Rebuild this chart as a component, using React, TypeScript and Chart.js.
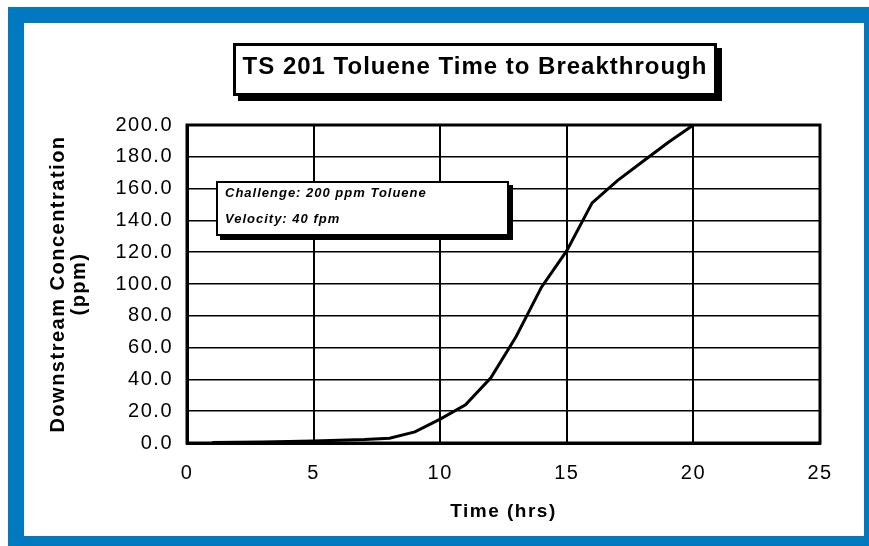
import React, { useEffect, useRef } from 'react';
import { Chart, registerables } from 'chart.js';

Chart.register(...registerables);

// ---- data ----
const hours = [1, 2, 3, 4, 5, 6, 7, 8, 9, 10, 11, 12, 13, 14, 15, 16, 17, 18, 19, 20];
const ppm = [0.3, 0.5, 0.6, 0.9, 1.2, 1.8, 2.2, 3, 7, 15, 24, 41, 67, 98, 121, 151, 165, 177, 189, 200];
const xRange = [0, 25];
const xStep = 5;
const yRange = [0, 200];
const yStep = 20;
const titleText = 'TS 201 Toluene Time to Breakthrough';
const noteLines = ['Challenge: 200 ppm Toluene', 'Velocity: 40 fpm'];
const xTitle = 'Time (hrs)';
const yTitle = ['Downstream Concentration', '(ppm)'];

const FONT = "'Liberation Sans', Arial, Helvetica, sans-serif";

const spacingPlugin = {
  id: 'spacing',
  beforeDraw(chart: any) {
    (chart.ctx as any).letterSpacing = '1.5px';
  },
};

const framePlugin = {
  id: 'frame',
  afterDraw(chart: any) {
    const { ctx, chartArea } = chart;
    const { left, top, right, bottom } = chartArea;
    ctx.save();
    ctx.strokeStyle = '#000';
    ctx.lineWidth = 3;
    ctx.strokeRect(left, top, right - left, bottom - top);
    ctx.restore();
  },
};

export default function App() {
  const canvasRef = useRef<HTMLCanvasElement | null>(null);

  useEffect(() => {
    if (!canvasRef.current) return;
    const chart = new Chart(canvasRef.current, {
      type: 'line',
      data: {
        datasets: [
          {
            label: 'Toluene',
            data: hours.map((h, i) => ({ x: h, y: ppm[i] })),
            borderColor: '#000',
            borderWidth: 3,
            pointRadius: 0,
            tension: 0,
            fill: false,
          },
        ],
      },
      options: {
        animation: false,
        responsive: false,
        maintainAspectRatio: false,
        layout: { padding: { left: 0, top: 125, right: 49, bottom: 0 } },
        plugins: {
          legend: { display: false },
          tooltip: { enabled: false },
          title: { display: false },
        },
        scales: {
          x: {
            type: 'linear',
            position: 'bottom',
            min: xRange[0],
            max: xRange[1],
            ticks: {
              stepSize: xStep,
              color: '#000',
              font: { family: FONT, size: 20 },
              padding: 18,
            },
            grid: { color: '#000', lineWidth: 2, drawTicks: false },
            border: { display: true, color: '#000', width: 3 },
            title: {
              display: true,
              text: xTitle,
              color: '#000',
              font: { family: FONT, size: 19, weight: 'bold', lineHeight: 1.2 },
              padding: { top: 0, bottom: 23 },
            },
            afterFit: (s: any) => {
              s.height = 103;
            },
          },
          y: {
            type: 'linear',
            min: yRange[0],
            max: yRange[1],
            ticks: {
              stepSize: yStep,
              color: '#000',
              font: { family: FONT, size: 20 },
              padding: 14,
              callback: (v: any) => Number(v).toFixed(1),
            },
            grid: { color: '#000', lineWidth: 1.6, drawTicks: false },
            border: { display: true, color: '#000', width: 3 },
            title: {
              display: true,
              text: yTitle,
              color: '#000',
              font: { family: FONT, size: 20, weight: 'bold', lineHeight: 1.05 },
              padding: { top: 48, bottom: 0 },
            },
            afterFit: (s: any) => {
              s.width = 187;
            },
          },
        },
      },
      plugins: [spacingPlugin, framePlugin],
    } as any);
    return () => chart.destroy();
  }, []);

  return (
    <div
      style={{
        position: 'absolute',
        left: 0,
        top: 0,
        width: 869,
        height: 546,
        background: '#fff',
        overflow: 'hidden',
      }}
    >
      <div
        style={{
          position: 'absolute',
          left: 8,
          top: 7,
          width: 861,
          height: 539,
          boxSizing: 'border-box',
          borderStyle: 'solid',
          borderColor: '#0079C1',
          borderWidth: '16px 5px 10px 16px',
          background: '#fff',
        }}
      />
      <canvas
        ref={canvasRef}
        width={869}
        height={546}
        style={{ position: 'absolute', left: 0, top: 0, width: 869, height: 546, display: 'block' }}
      />
      <div
        style={{
          position: 'absolute',
          left: 233,
          top: 43,
          width: 484,
          height: 53,
          boxSizing: 'border-box',
          border: '3px solid #000',
          boxShadow: '5px 5px 0 #000',
          background: '#fff',
          display: 'flex',
          alignItems: 'center',
          justifyContent: 'center',
          paddingBottom: 8,
          fontFamily: FONT,
          fontWeight: 'bold',
          fontSize: 24,
          letterSpacing: '1px',
          color: '#000',
          whiteSpace: 'nowrap',
        }}
      >
        {titleText}
      </div>
      <div
        style={{
          position: 'absolute',
          left: 216,
          top: 181,
          width: 293,
          height: 55,
          boxSizing: 'border-box',
          border: '2px solid #000',
          boxShadow: '4px 4px 0 #000',
          background: '#fff',
          fontFamily: FONT,
          fontWeight: 'bold',
          fontStyle: 'italic',
          fontSize: 13,
          letterSpacing: '1px',
          color: '#000',
          whiteSpace: 'nowrap',
        }}
      >
        <div style={{ position: 'absolute', left: 7, top: 2, lineHeight: '15px' }}>{noteLines[0]}</div>
        <div style={{ position: 'absolute', left: 7, top: 28, lineHeight: '15px' }}>{noteLines[1]}</div>
      </div>
    </div>
  );
}
